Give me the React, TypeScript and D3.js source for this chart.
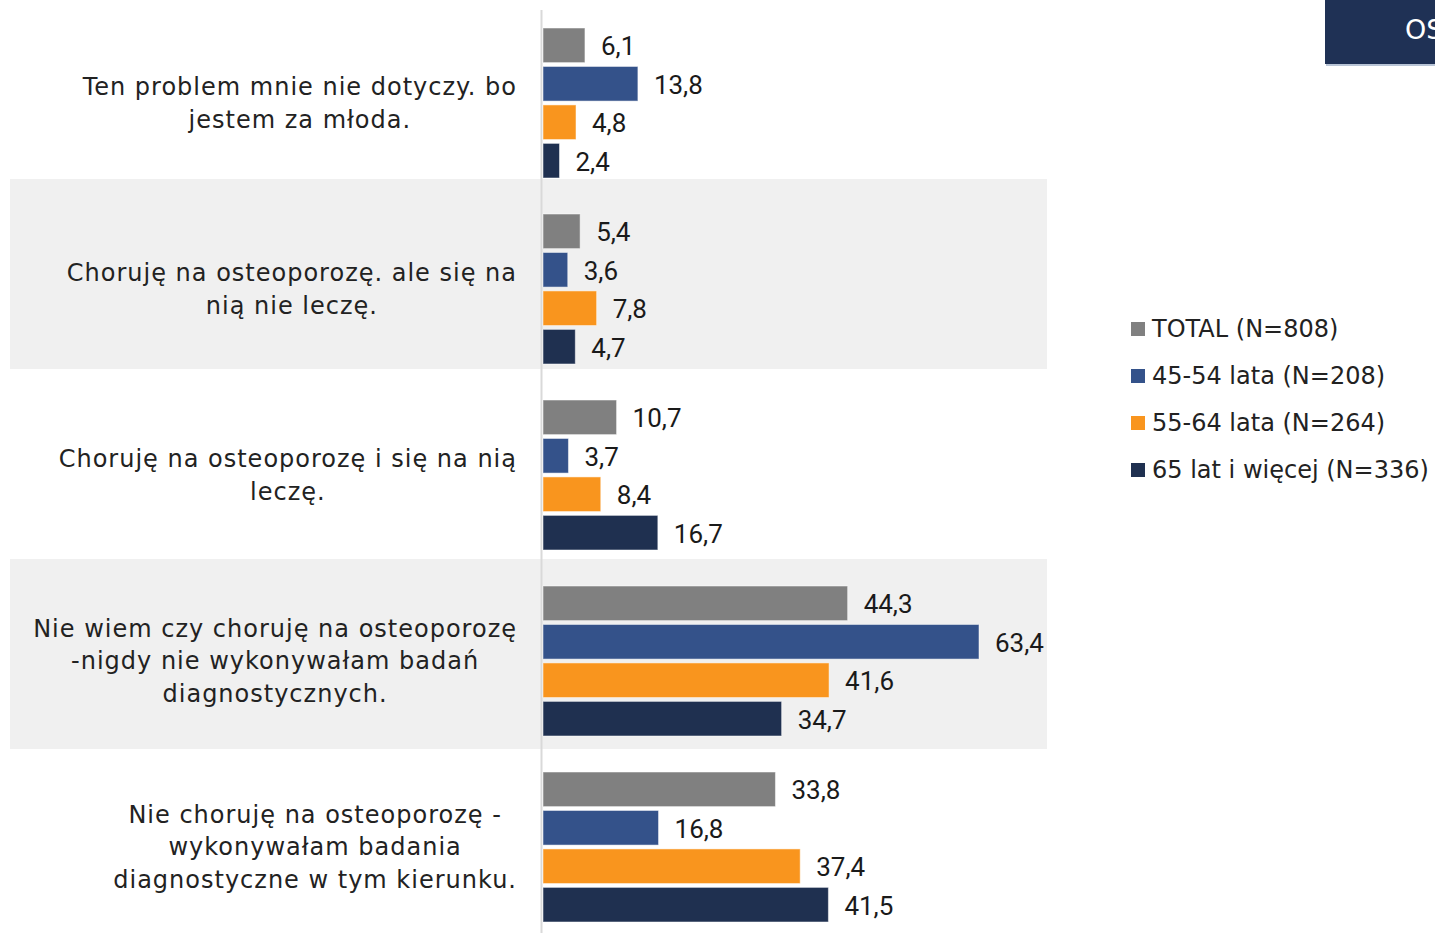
import React from "react";
import * as d3 from "d3";

const categories = [
  ["Ten problem mnie nie dotyczy. bo", "jestem za młoda."],
  ["Choruję na osteoporozę. ale się na", "nią nie leczę."],
  ["Choruję na osteoporozę i się na nią", "leczę."],
  ["Nie wiem czy choruję na osteoporozę", "-nigdy nie wykonywałam badań", "diagnostycznych."],
  ["Nie choruję na osteoporozę -", "wykonywałam badania", "diagnostyczne w tym kierunku."],
];
const seriesNames = ["TOTAL (N=808)", "45-54 lata (N=208)", "55-64 lata (N=264)", "65 lat i więcej (N=336)"];
const total = [6.1, 5.4, 10.7, 44.3, 33.8];
const g4554 = [13.8, 3.6, 3.7, 63.4, 16.8];
const g5564 = [4.8, 7.8, 8.4, 41.6, 37.4];
const g65 = [2.4, 4.7, 16.7, 34.7, 41.5];
const seriesValues = [total, g4554, g5564, g65];
const colors = ["#808080", "#34528a", "#f9951e", "#1f3050"];

const W = 1435, H = 933;
const catFont = "'DejaVu Sans', sans-serif";
const catSize = 24;
const catSpacing = 1;

let ctx: CanvasRenderingContext2D | null = null;
function measure(t: string): number {
  if (!ctx) {
    const c = document.createElement("canvas");
    ctx = c.getContext("2d");
  }
  if (!ctx) return t.length * 14;
  ctx.font = `${catSize}px 'DejaVu Sans'`;
  return ctx.measureText(t).width + catSpacing * t.length;
}

export default function App() {
  const x = d3.scaleLinear().domain([0, 63.4]).range([543, 979]);
  const idx = d3.range(categories.length);
  const y = d3.scaleBand<number>().domain(idx).range([28, 922]).paddingInner(36 / 186).paddingOuter(0).align(0);
  const yi = d3.scaleBand<number>().domain(d3.range(4)).range([0, y.bandwidth()]).paddingInner(0.1).paddingOuter(0);
  const shade = d3.scaleBand<number>().domain(idx).range([-11, 939]);
  const lineH = 32.5;

  return (
    <svg width={W} height={H} style={{ position: "absolute", left: 0, top: 0, background: "#fff" }}>
      {idx.filter((i) => i % 2 === 1).map((i) => (
        <rect key={"s" + i} x={10} y={shade(i)!} width={1037} height={shade.bandwidth()} fill="#f0f0f0" />
      ))}
      <line x1={541.5} x2={541.5} y1={10} y2={H} stroke="#d9d9d9" strokeWidth={2} />
      {idx.map((i) => {
        const lines = categories[i];
        const maxW = d3.max(lines, (l) => measure(l)) || 0;
        const cx = 517 - maxW / 2;
        const cy = y(i)! + y.bandwidth() / 2;
        const top = cy - ((lines.length - 1) * lineH) / 2;
        return (
          <g key={"c" + i}>
            {lines.map((l, j) => (
              <text key={j} x={cx} y={top + j * lineH} dy="0.35em" textAnchor="middle"
                fontFamily={catFont} fontSize={catSize} letterSpacing={catSpacing} fill="#222222">{l}</text>
            ))}
            {seriesValues.map((vals, s) => {
              const by = y(i)! + yi(s)!;
              return (
                <g key={s}>
                  <rect x={x(0)} y={by} width={x(vals[i]) - x(0)} height={yi.bandwidth()} fill={colors[s]}
                    stroke="#ffffff" strokeOpacity={0.5} strokeWidth={1} />
                  <text x={x(vals[i]) + 16} y={by + yi.bandwidth() / 2} dy="0.38em"
                    fontFamily="Roboto, sans-serif" fontSize={26} fill="#1a1a1a">
                    {vals[i].toFixed(1).replace(".", ",")}
                  </text>
                </g>
              );
            })}
          </g>
        );
      })}
      {seriesNames.map((n, s) => {
        const ly = 329 + s * 47;
        return (
          <g key={"l" + s}>
            <rect x={1131} y={ly - 7} width={14} height={14} fill={colors[s]} />
            <text x={1152} y={ly} dy="0.35em" fontFamily={catFont} fontSize={24} fill="#222222">{n}</text>
          </g>
        );
      })}
      <rect x={1326} y={1} width={120} height={65} fill="#b8c4d6" />
      <rect x={1325} y={0} width={120} height={64} fill="#1f3155" />
      <text x={1405} y={30} dy="0.35em" fontFamily={catFont} fontSize={27} fill="#ffffff">OS</text>
    </svg>
  );
}
